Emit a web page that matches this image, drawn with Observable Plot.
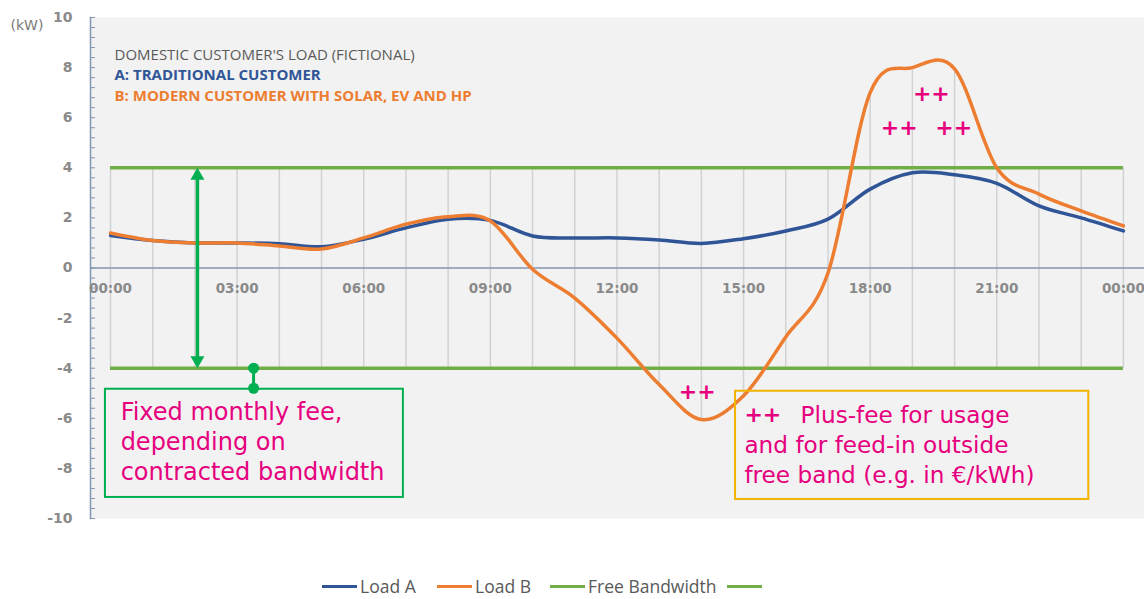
<!DOCTYPE html>
<html><head><meta charset="utf-8">
<script src="https://cdn.jsdelivr.net/npm/d3@7"></script>
<script src="https://cdn.jsdelivr.net/npm/@observablehq/plot@0.6"></script>
<style>
body{margin:0;background:#fff;width:1144px;height:599px;overflow:hidden;font-family:"Open Sans",sans-serif;}
#legend{position:relative;height:39px;}
.lg{position:absolute;top:14px;height:24px;display:flex;align-items:center;font-size:17.5px;color:#595959;line-height:24px;white-space:nowrap;}
.sw{display:inline-block;width:35px;height:3px;margin-right:3px;}
</style></head><body>
<div id="chart"></div>
<div id="legend"></div>
<script>
// ---- data ----
const hours = [0,1,2,3,4,5,6,7,8,9,10,11,12,13,14,15,16,17,18,19,20,21,22,23,24];
const loadA = [1.3,1.1,1.0,1.0,0.97,0.85,1.15,1.6,1.95,1.9,1.28,1.2,1.2,1.12,0.98,1.17,1.48,1.95,3.15,3.8,3.72,3.38,2.48,2.0,1.48];
const loadB = [1.4,1.1,1.0,1.0,0.88,0.76,1.2,1.75,2.05,1.88,-0.05,-1.2,-2.8,-4.65,-6.05,-5.1,-2.75,-0.2,7.0,8.0,7.95,4.0,2.95,2.28,1.68];
const freeBandwidth = [4, -4];
const yTicks = [-10,-8,-6,-4,-2,0,2,4,6,8,10];
const xTickHours = [0,3,6,9,12,15,18,21,24];
const xTickLabels = ["00:00","03:00","06:00","09:00","12:00","15:00","18:00","21:00","00:00"];
const seriesNames = ["Load A","Load B","Free Bandwidth",""];
const seriesColors = ["#2f5597","#ed7d31","#70ad47","#70ad47"];
const titleLines = ["DOMESTIC CUSTOMER'S LOAD (FICTIONAL)","A: TRADITIONAL CUSTOMER","B: MODERN CUSTOMER WITH SOLAR, EV AND HP"];
const unitLabel = "(kW)";
const boxGreenLines = ["Fixed monthly fee,","depending on","contracted bandwidth"];
const boxOrangeLines = ["Plus-fee for usage","and for feed-in outside","free band (e.g. in \u20ac/kWh)"];
const plusMark = "++";

// ---- derived ----
const rows = hours.map((h,i)=>({h, a: loadA[i], b: loadB[i],
  lo: Math.min(loadA[i], loadB[i], ...freeBandwidth),
  hi: Math.max(loadA[i], loadB[i], ...freeBandwidth)}));
const minorTicks = d3.range(-10, 10.001, 0.4).map(v=>+v.toFixed(2));
const x0 = d3.min(hours), x1 = d3.max(hours);
const axisColor = "#8496b0";
const magenta = "#e6007e";
const green2 = "#00b050";
const tickFont = "DejaVu Sans";
const boxFont = "DejaVu Sans";

const chart = Plot.plot({
  width: 1144, height: 560,
  marginLeft: 90, marginRight: 0, marginTop: 17, marginBottom: 42,
  x: {domain: [-0.474, 24.5], axis: null},
  y: {domain: [-10, 10], axis: null},
  style: {background: "white", fontFamily: "Open Sans"},
  marks: [
    Plot.frame({fill: "#f2f2f2", stroke: null}),
    // high-low lines
    Plot.ruleX(rows, {x: "h", y1: "lo", y2: "hi", stroke: "#d2d2d2", strokeWidth: 1.5}),
    // axes
    Plot.ruleY([0], {stroke: axisColor, strokeWidth: 1.5}),
    Plot.frame({anchor: "left", stroke: axisColor, strokeWidth: 1.5}),
    Plot.axisY({ticks: minorTicks, tickSize: 5, dx: 5, text: null, stroke: axisColor}),
    Plot.text(yTicks, {x: -0.474, y: d=>d, text: d=>String(d), textAnchor: "end", dx: -18,
      fontSize: 14, fontWeight: "bold", fill: "#8a8a8a", fontFamily: tickFont}),
    Plot.text(xTickHours, {x: d=>d, y: 0, text: (d,i)=>xTickLabels[i], dy: 21,
      fontSize: 13.5, fontWeight: "bold", fill: "#8a8a8a", fontFamily: tickFont}),
    Plot.text([unitLabel], {frameAnchor: "top-left", dx: -80, dy: 3, fontSize: 14, fill: "#7a7a7a", fontFamily: tickFont}),
    // free band
    Plot.ruleY(freeBandwidth, {x1: x0, x2: x1, stroke: "#70ad47", strokeWidth: 3.5}),
    // load lines
    Plot.line(rows, {x: "h", y: "a", stroke: seriesColors[0], strokeWidth: 3.5, curve: "cardinal", tension: 0}),
    Plot.line(rows, {x: "h", y: "b", stroke: seriesColors[1], strokeWidth: 3.5, curve: "cardinal", tension: 0}),
    // title block
    Plot.text([titleLines[0]], {frameAnchor: "top-left", dx: 24, dy: 32, fontSize: 15, fill: "#5a5a5a", textAnchor: "start", lineAnchor: "top"}),
    Plot.text([titleLines[1]], {frameAnchor: "top-left", dx: 24, dy: 52, fontSize: 15, fontWeight: "bold", fill: "#2f5597", textAnchor: "start", lineAnchor: "top"}),
    Plot.text([titleLines[2]], {frameAnchor: "top-left", dx: 24, dy: 73, fontSize: 15, fontWeight: "bold", fill: "#ed7d31", textAnchor: "start", lineAnchor: "top"}),
    // bandwidth arrow
    Plot.ruleX([2.06], {y1: -3.7, y2: 3.7, stroke: green2, strokeWidth: 3.5}),
    Plot.dot([4], {x: 2.06, y: d=>d, symbol: "triangle", r: 5.2, fill: green2, stroke: null, dy: 8}),
    Plot.dot([-4], {x: 2.06, y: d=>d, symbol: "triangle", r: 5.2, fill: green2, stroke: null, dy: -8, rotate: 180}),
    // connector to box
    Plot.ruleX([3.39], {y1: -4, y2: -4.8, stroke: green2, strokeWidth: 3}),
    Plot.dot([-4, -4.8], {x: 3.39, y: d=>d, r: 5.5, fill: green2, stroke: null}),
    // green box
    Plot.rect([0], {x1: -0.12, x2: 6.94, y1: -4.84, y2: -9.16, fill: "none", stroke: green2, strokeWidth: 2}),
    Plot.text(boxGreenLines, {x: 0.24, y: (d,i)=> -5.76 - 1.2*i, textAnchor: "start", fontSize: 24, fill: magenta, fontFamily: boxFont}),
    // orange box
    Plot.rect([0], {x1: 14.81, x2: 23.18, y1: -4.92, y2: -9.24, fill: "none", stroke: "#f2b400", strokeWidth: 2}),
    Plot.text([plusMark], {x: 15.02, y: -5.88, textAnchor: "start", fontSize: 22, fontWeight: "bold", fill: magenta, fontFamily: boxFont}),
    Plot.text(boxOrangeLines, {x: (d,i)=> i===0 ? 16.35 : 15.02, y: (d,i)=> -5.88 - 1.2*i, textAnchor: "start", fontSize: 23.2, fill: magenta, fontFamily: boxFont}),
    // ++ marks
    Plot.text([plusMark], {x: 13.9, y: -4.96, fontSize: 22, fontWeight: "bold", fill: magenta, fontFamily: boxFont}),
    Plot.text([plusMark], {x: 19.45, y: 6.96, fontSize: 22, fontWeight: "bold", fill: magenta, fontFamily: boxFont}),
    Plot.text([plusMark], {x: 18.69, y: 5.6, fontSize: 22, fontWeight: "bold", fill: magenta, fontFamily: boxFont}),
    Plot.text([plusMark], {x: 19.98, y: 5.6, fontSize: 22, fontWeight: "bold", fill: magenta, fontFamily: boxFont})
  ]
});
document.getElementById("chart").appendChild(chart);

// legend
const legend = document.getElementById("legend");
const legendX = [322, 437, 550, 727];
seriesNames.forEach((n,i)=>{
  const d = document.createElement("div");
  d.className = "lg";
  d.style.left = legendX[i] + "px";
  d.innerHTML = `<span class="sw" style="background:${seriesColors[i]}"></span>${n}`;
  legend.appendChild(d);
});
</script>
</body></html>
